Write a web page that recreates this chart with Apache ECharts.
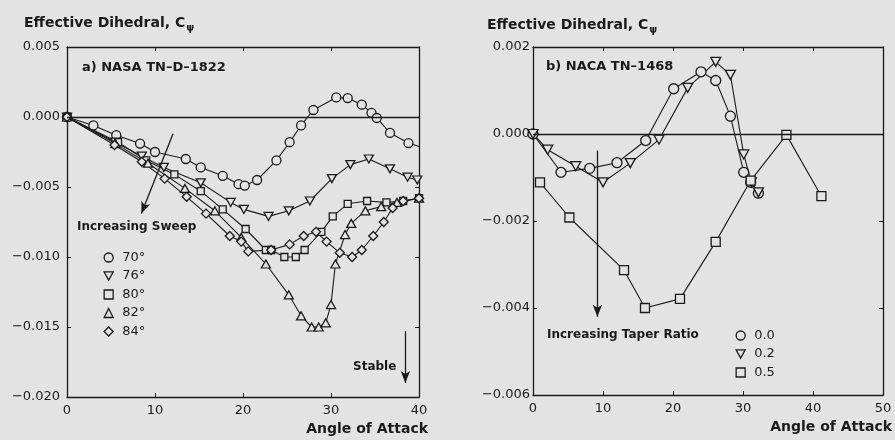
<!DOCTYPE html>
<html>
<head>
<meta charset="utf-8">
<script src="https://cdn.jsdelivr.net/npm/echarts@6/dist/echarts.min.js"></script>
<style>
  html, body { margin: 0; padding: 0; background: #e3e3e3; }
  #chart { width: 895px; height: 440px; }
</style>
</head>
<body>
<div id="chart"></div>
<script>
// ---- a) NASA TN-D-1822 : effective dihedral vs angle of attack, by sweep ----
const sweepNames = ['70°', '76°', '80°', '82°', '84°'];
const sweep70 = [[0,0],[3,-0.0006],[5.6,-0.0013],[8.3,-0.0019],[10,-0.0025],[13.5,-0.0030],[15.2,-0.0036],[17.7,-0.0042],[19.5,-0.0048],[20.2,-0.0049],[21.6,-0.0045],[23.8,-0.0031],[25.3,-0.0018],[26.6,-0.0006],[28,0.0005],[30.6,0.0014],[31.9,0.00135],[33.5,0.00088],[34.6,0.0003],[35.2,-0.00007],[36.7,-0.00114],[38.8,-0.00186],[40,-0.0021]];
const sweep76 = [[0,0],[5.5,-0.0018],[8.5,-0.0028],[11,-0.0036],[15.2,-0.0047],[18.6,-0.0061],[20.1,-0.0066],[22.9,-0.0071],[25.2,-0.0067],[27.6,-0.0060],[30.1,-0.0044],[32.2,-0.0034],[34.3,-0.0030],[36.7,-0.0037],[38.7,-0.0043],[39.8,-0.0045]];
const sweep80 = [[0,0],[5.8,-0.0018],[9,-0.0031],[12.2,-0.0041],[15.2,-0.0053],[17.7,-0.0066],[20.3,-0.0080],[22.6,-0.0095],[23.2,-0.0095],[24.7,-0.0100],[26,-0.0100],[27,-0.0095],[28.9,-0.0082],[30.2,-0.0071],[31.9,-0.0062],[34.1,-0.0060],[36.3,-0.0061],[38.2,-0.0060],[40,-0.0058]];
const sweep82 = [[0,0],[5.5,-0.0019],[9.2,-0.0033],[13.4,-0.0051],[16.8,-0.0067],[19.8,-0.0086],[22.6,-0.0105],[25.2,-0.0127],[26.6,-0.0142],[27.8,-0.0150],[28.6,-0.0150],[29.4,-0.0147],[30,-0.0134],[30.5,-0.0105],[31.6,-0.0084],[32.3,-0.0076],[33.9,-0.0067],[35.7,-0.0064],[37.5,-0.0061],[40,-0.0058]];
const sweep84 = [[0,0],[5.4,-0.0020],[8.5,-0.0032],[11.1,-0.0044],[13.6,-0.0057],[15.8,-0.0069],[18.5,-0.0085],[19.8,-0.0089],[20.6,-0.0096],[23.2,-0.0095],[25.3,-0.0091],[26.9,-0.0085],[28.3,-0.0082],[29.5,-0.0089],[31,-0.0097],[32.4,-0.0100],[33.5,-0.0095],[34.8,-0.0085],[36,-0.0075],[37,-0.0065],[38.2,-0.0060],[40,-0.0058]];

// ---- b) NACA TN-1468 : effective dihedral vs angle of attack, by taper ratio ----
const taperNames = ['0.0', '0.2', '0.5'];
const taper00 = [[0,0],[4,-0.00088],[8.1,-0.00079],[12,-0.00066],[16.1,-0.00015],[20.1,0.00104],[24,0.00143],[26.1,0.00123],[28.2,0.00041],[30.1,-0.00088],[31.1,-0.00111],[32.2,-0.00136]];
const taper02 = [[0,0],[2.1,-0.00036],[6.1,-0.00074],[10,-0.00111],[13.9,-0.00067],[18,-0.00013],[22.1,0.00106],[26.1,0.00166],[28.2,0.00136],[30.1,-0.00047],[31.2,-0.00111],[32.2,-0.00134]];
const taper05 = [[1,-0.00111],[5.2,-0.00192],[13,-0.00313],[16,-0.00400],[21,-0.00379],[26.1,-0.00248],[31.1,-0.00107],[36.2,-0.00002],[41.2,-0.00143]];

// axis ranges and steps
const leftX = { min: 0, max: 40, step: 10 };
const leftY = { min: -0.020, max: 0.005, step: 0.005 };
const rightX = { min: 0, max: 50, step: 10 };
const rightY = { min: -0.006, max: 0.002, step: 0.002 };

const ink = '#1a1a1a';
const paper = '#e3e3e3';
const font = 'DejaVu Sans';

const chart = echarts.init(document.getElementById('chart'));

const fmtY = v => v.toFixed(3).replace('-', '\u2212');

function frameAxis(r, pos, grid, labels, extra) {
  return Object.assign({
    type: 'value', gridIndex: grid, position: pos,
    min: r.min, max: r.max, interval: r.step,
    axisLine: { show: true, onZero: false, lineStyle: { color: ink, width: 1.3 } },
    axisTick: { show: true, inside: true, length: 4, lineStyle: { color: ink, width: 1 } },
    axisLabel: labels ? { show: true, color: ink, fontSize: 13, fontFamily: font, margin: 7 } : { show: false },
    splitLine: { show: false }
  }, extra || {});
}

const xName = {
  name: 'Angle of Attack', nameLocation: 'end', nameGap: 9,
  nameTextStyle: { color: ink, fontSize: 14, fontWeight: 'bold', fontFamily: font, align: 'right', verticalAlign: 'top', padding: [25, 0, 0, 0] }
};

const downTri = 'path://M0,0L10,0L5,9Z';

function series(name, data, symbol, size, axis, extra) {
  return Object.assign({
    type: 'line', name: name, data: data,
    xAxisIndex: axis, yAxisIndex: axis,
    symbol: symbol, symbolSize: size,
    showSymbol: true, showAllSymbol: true,
    itemStyle: { color: paper, borderColor: ink, borderWidth: 1.3 },
    lineStyle: { color: ink, width: 1.1 },
    emphasis: { disabled: true },
    z: 3
  }, extra || {});
}

const markLineBase = {
  silent: true, symbol: 'none', animation: false,
  label: { show: false },
  lineStyle: { color: ink, width: 1.3, type: 'solid' }
};

const arrowEnd = { symbol: 'arrow', symbolSize: [7, 12] };

const titleStyle = {
  color: ink, fontSize: 14, fontWeight: 'bold', fontFamily: font,
  rich: { s: { fontSize: 10, fontWeight: 'bold', fontFamily: font, color: ink, padding: [10, 0, 0, 1] } }
};

const legendCommon = {
  orient: 'vertical', padding: 0,
  itemWidth: 9, itemHeight: 9, itemGap: 5.5,
  selectedMode: false,
  itemStyle: { color: paper, borderColor: ink, borderWidth: 1.3 },
  textStyle: { color: ink, fontSize: 13, fontFamily: font, lineHeight: 13, padding: [0, 0, 0, 4] }
};

const option = {
  backgroundColor: paper,
  animation: false,
  title: [
    { text: 'Effective Dihedral, C{s|\u03c8}', left: 19, top: 8, textStyle: titleStyle },
    { text: 'Effective Dihedral, C{s|\u03c8}', left: 482, top: 10, textStyle: titleStyle }
  ],
  grid: [
    { left: 67, top: 47, width: 352, height: 350 },
    { left: 533, top: 47, width: 352, height: 348 }
  ],
  xAxis: [
    frameAxis(leftX, 'bottom', 0, true, xName),
    frameAxis(leftX, 'top', 0, false),
    frameAxis(rightX, 'bottom', 1, true, xName),
    frameAxis(rightX, 'top', 1, false)
  ],
  yAxis: [
    frameAxis(leftY, 'left', 0, true, { axisLabel: { color: ink, fontSize: 13, fontFamily: font, margin: 7, formatter: fmtY } }),
    frameAxis(leftY, 'right', 0, false),
    frameAxis(rightY, 'left', 1, true, { axisLabel: { color: ink, fontSize: 13, fontFamily: font, margin: 3, formatter: fmtY } }),
    frameAxis(rightY, 'right', 1, false)
  ],
  legend: [
    Object.assign({}, legendCommon, {
      data: [
        { name: sweepNames[0], icon: 'circle' },
        { name: sweepNames[1], icon: downTri },
        { name: sweepNames[2], icon: 'rect' },
        { name: sweepNames[3], icon: 'triangle' },
        { name: sweepNames[4], icon: 'diamond' }
      ],
      left: 103.5, top: 251
    }),
    Object.assign({}, legendCommon, {
      data: [
        { name: taperNames[0], icon: 'circle' },
        { name: taperNames[1], icon: downTri },
        { name: taperNames[2], icon: 'rect' }
      ],
      left: 735.5, top: 329
    })
  ],
  graphic: [
    { type: 'text', left: 82, top: 61, silent: true,
      style: { text: 'a) NASA TN\u2013D\u20131822', fill: ink, font: 'bold 13px "DejaVu Sans"' } },
    { type: 'text', left: 77, top: 221, silent: true,
      style: { text: 'Increasing Sweep', fill: ink, font: 'bold 12px "DejaVu Sans"' } },
    { type: 'text', left: 353, top: 361, silent: true,
      style: { text: 'Stable', fill: ink, font: 'bold 12px "DejaVu Sans"' } },
    { type: 'text', left: 546, top: 60, silent: true,
      style: { text: 'b) NACA TN\u20131468', fill: ink, font: 'bold 13px "DejaVu Sans"' } },
    { type: 'text', left: 547, top: 329, silent: true,
      style: { text: 'Increasing Taper Ratio', fill: ink, font: 'bold 12px "DejaVu Sans"' } }
  ],
  series: [
    series(sweepNames[0], sweep70.map((p, i) => i === sweep70.length - 1 ? { value: p, symbol: 'none' } : p), 'circle', 9, 0, {
      markLine: Object.assign({}, markLineBase, {
        data: [
          { yAxis: 0 },
          [{ coord: [12.05, -0.0012] }, Object.assign({ coord: [8.45, -0.0069] }, arrowEnd)],
          [{ coord: [38.45, -0.0153] }, Object.assign({ coord: [38.45, -0.0190] }, arrowEnd)]
        ]
      })
    }),
    series(sweepNames[1], sweep76, downTri, [9, 8], 0),
    series(sweepNames[2], sweep80, 'rect', 7, 0),
    series(sweepNames[3], sweep82, 'triangle', [9, 8], 0),
    series(sweepNames[4], sweep84, 'diamond', 9, 0),
    series(taperNames[0], taper00, 'circle', 10, 2, {
      markLine: Object.assign({}, markLineBase, {
        data: [
          { yAxis: 0 },
          [{ coord: [9.2, -0.00038] }, Object.assign({ coord: [9.2, -0.0042] }, arrowEnd)]
        ]
      })
    }),
    series(taperNames[1], taper02, downTri, [10, 9], 2),
    series(taperNames[2], taper05, 'rect', 9, 2)
  ]
};

chart.setOption(option);
</script>
</body>
</html>
